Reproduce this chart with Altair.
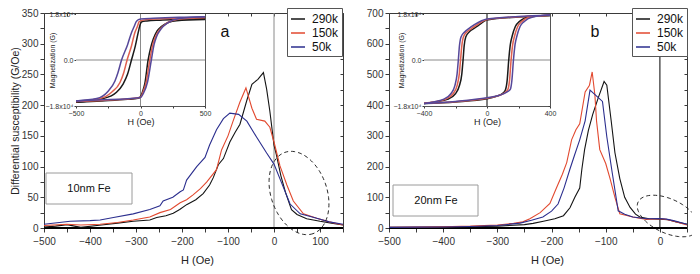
import altair as alt
import numpy as np
import pandas as pd

FONT = "Liberation Sans"
TEMPS = ["290k", "150k", "50k"]
COLORS = ["#141414", "#e2492f", "#2b2e8e"]
INSET_COLORS = ["#1a1a1a", "#e0604f", "#56489a"]

# ---------------- panel a (10nm Fe): differential susceptibility (G/Oe) vs H (Oe)
A290_H = [-500, -475, -450, -420, -380, -340, -306, -270, -255, -235, -219, -205, -190, -170, -154, -140, -132, -121, -110, -96,
          -85, -74, -59, -48, -35, -23, -16, -9, 0, 5, 15, 25, 38, 50, 71, 100, 125, 150]
A290_V = [1.5, 3, 5.5, 1, 4.5, 8, 11, 13, 17, 20, 24, 30, 38, 46, 56, 70, 82, 103, 113, 140,
          155, 169, 208, 234, 242, 253, 226, 190, 135, 120, 85, 58, 30, 22, 15, 11, 8, 5]
A150_H = [-500, -450, -420, -378, -340, -306, -270, -248, -225, -204, -190, -176, -160, -146, -125, -114, -100, -89, -74, -61,
          -48, -38, -20, -9, 0, 13, 28, 42, 64, 93, 120, 150]
A150_V = [4, 6, 5, 6, 9, 13, 18, 25, 30, 41, 46, 54, 64, 75, 95, 127, 150, 174, 205, 228,
          195, 177, 174, 164, 140, 101, 70, 44, 23, 16, 10, 5]
A50_H = [-500, -443, -400, -378, -349, -306, -270, -248, -241, -220, -204, -197, -190, -168, -150, -140, -125, -110, -96, -77,
         -59, -38, -16, 0, 13, 35, 57, 93, 120, 150]
A50_V = [6, 11, 12, 13, 17, 23, 30, 36, 44, 50, 59, 62, 78, 100, 115, 135, 160, 178, 187, 185,
         174, 148, 122, 104, 80, 39, 23, 16, 10, 6]

# ---------------- panel b (20nm Fe)
B290_H = [-500, -450, -400, -350, -300, -250, -234, -215, -194, -178, -166, -157, -148, -144, -139, -132, -124, -114, -103, -98,
          -90, -83, -74, -65, -55, -45, -37, -20, 0, 15, 30, 50]
B290_V = [2, 2, 3, 4, 6, 11, 15, 22, 30, 40, 66, 100, 130, 192, 255, 318, 370, 423, 477, 465,
          350, 245, 161, 100, 67, 45, 36, 30, 29, 27, 20, 12]
B150_H = [-500, -450, -400, -350, -300, -270, -253, -240, -221, -203, -191, -180, -172, -163, -155, -148, -138, -130, -125, -120,
          -117, -111, -100, -92, -83, -74, -50, -25, 0, 12, 24, 50]
B150_V = [2, 3, 4, 6, 10, 15, 20, 30, 50, 80, 130, 175, 213, 287, 320, 339, 443, 465, 508, 433,
          349, 255, 210, 161, 100, 46, 36, 28, 30, 28, 23, 10]
B50_H = [-500, -450, -400, -350, -300, -258, -237, -216, -200, -188, -177, -166, -157, -148, -138, -129, -106, -98, -88, -77,
         -65, -50, -25, 0, 12, 25, 50]
B50_V = [2, 3, 3.5, 5, 8, 16, 25, 36, 55, 78, 130, 192, 240, 287, 349, 449, 412, 297, 180, 56,
         45, 36, 30, 31, 29, 24, 12]

# ---------------- inset a: magnetization (G) vs H (Oe), descending / ascending branches
IA290_DN_H = [500, 300, 150, 50, 10, 0, -18, -40, -70, -100, -135, -186, -290, -500]
IA290_DN_M = [16200, 15900, 15600, 15300, 15000, 14300, 10700, 5500, 0, -5500, -9400, -12600, -15100, -16500]
IA290_UP_H = [-500, -300, -100, -20, 0, 15, 33, 59, 80, 99, 130, 164, 220, 279, 500]
IA290_UP_M = [-16500, -16000, -15400, -15000, -14400, -12500, -9400, 0, 5000, 8200, 11500, 13200, 14800, 15400, 15800]
IA150_DN_H = [500, 300, 100, 20, -10, -25, -44, -70, -104, -130, -159, -224, -316, -500]
IA150_DN_M = [16600, 16400, 16000, 15600, 15000, 13000, 10700, 5500, 0, -5000, -8800, -12600, -15100, -16200]
IA150_UP_H = [-500, -300, -100, 0, 20, 45, 72, 95, 115, 150, 200, 290, 500]
IA150_UP_M = [-16200, -15800, -15300, -14600, -12500, -8500, 0, 6000, 9000, 12000, 14300, 15900, 16600]
IA50_DN_H = [500, 300, 100, 0, -31, -50, -70, -100, -147, -175, -198, -251, -340, -500]
IA50_DN_M = [16900, 16700, 16300, 16000, 15200, 13000, 10700, 6000, 0, -5000, -8200, -12200, -15100, -16000]
IA50_UP_H = [-500, -300, -100, 0, 25, 55, 84, 105, 125, 160, 210, 300, 500]
IA50_UP_M = [-16000, -15600, -15200, -14700, -12800, -8500, 0, 6000, 9200, 12200, 14500, 16200, 16900]

# ---------------- inset b
IB290_DN_H = [400, 200, 0, -60, -92, -113, -135, -145, -152, -160, -175, -199, -252, -320, -400]
IB290_DN_M = [17400, 16800, 15600, 13300, 12000, 11000, 9000, 5500, 0, -5500, -10000, -13100, -15400, -16300, -17000]
IB290_UP_H = [-400, -200, 0, 60, 100, 118, 128, 138, 148, 160, 180, 205, 270, 400]
IB290_UP_M = [-17000, -16400, -15200, -14200, -13000, -11500, -8000, 0, 6000, 9400, 13100, 15000, 16900, 17400]
IB150_DN_H = [400, 200, 0, -70, -105, -128, -150, -160, -168, -176, -190, -214, -265, -330, -400]
IB150_DN_M = [17500, 16900, 15800, 13500, 12000, 11000, 9000, 5500, 0, -5500, -10000, -13100, -15400, -16300, -16900]
IB150_UP_H = [-400, -200, 0, 70, 113, 133, 143, 153, 163, 175, 195, 220, 282, 400]
IB150_UP_M = [-16900, -16300, -15000, -14000, -12800, -11500, -8000, 0, 6000, 9400, 13100, 15000, 16900, 17500]
IB50_DN_H = [400, 200, 0, -80, -118, -142, -165, -175, -182, -190, -204, -228, -278, -340, -400]
IB50_DN_M = [17600, 17000, 16000, 13800, 12200, 11000, 9000, 5500, 0, -5500, -10000, -13100, -15400, -16400, -17000]
IB50_UP_H = [-400, -200, 0, 80, 128, 148, 158, 168, 178, 190, 210, 235, 295, 400]
IB50_UP_M = [-17000, -16200, -14800, -13800, -12500, -11500, -8000, 0, 6000, 9400, 13100, 15000, 16900, 17600]

LABEL_A = "10nm Fe"
LABEL_B = "20nm Fe"

# ================= layout (pixels inside the chart canvas)
W, H = 684, 258
MAIN_TOP = 5
MAIN_BOTTOM = 220


def to_df(items):
    rows = []
    for t, b, xs, ys in items:
        for x, y in zip(xs, ys):
            rows.append({"T": t, "B": b, "H": x, "V": y})
    return pd.DataFrame(rows)


def qscale(dom, rng):
    return alt.Scale(domain=dom, range=rng, nice=False, zero=False)


def axis(**kw):
    base = dict(grid=False, domainColor="#3a3a3a", tickColor="#3a3a3a", labelColor="#333333",
                labelFont=FONT, titleFont=FONT, titleFontWeight="normal", titleColor="#222222",
                labelOverlap=False)
    base.update(kw)
    return alt.Axis(**base)


def main_panel(df, xdom, xr, ydom, yr, ystep, ytitle, xtitle_x, zero_color, legend_x):
    xs = qscale(xdom, xr)
    ys = qscale(ydom, yr)
    xvals = list(range(xdom[0], xdom[1] + 1, 50))
    yvals = list(range(ydom[0], ydom[1] + 1, ystep))
    ylab = ystep * 2
    x_bottom = axis(orient="bottom", offset=yr[0] - H, values=xvals,
                    labelExpr="datum.value % 100 === 0 ? datum.label : ''",
                    tickSize=4, labelPadding=4, labelFontSize=10, labelFlush=False,
                    title="H (Oe)", titleFontSize=11, titleX=xtitle_x, titleY=26,
                    domainColor="#000000", domainWidth=1.2)
    x_top = axis(orient="bottom", offset=yr[1] - H, values=xvals, labels=False,
                 tickSize=3, title=None)
    y_kw = dict(orient="left", offset=-xr[0], values=yvals,
                labelExpr=f"datum.value % {ylab} === 0 ? datum.label : ''",
                tickSize=4, labelPadding=2, labelFontSize=10)
    if ytitle:
        y_kw.update(title=ytitle, titleFontSize=10.5, titleX=-24, titleY=(yr[0] + yr[1]) / 2)
    else:
        y_kw.update(title=None)
    y_left = axis(**y_kw)
    y_right = axis(orient="left", offset=-xr[1], values=yvals, labels=False, tickSize=3, title=None)

    legend = alt.Legend(orient="none", legendX=legend_x, legendY=0, title=None,
                        symbolType="stroke", symbolSize=196, symbolStrokeWidth=1.5,
                        labelFont=FONT, labelFontSize=12, labelColor="#111111", labelOffset=6,
                        rowPadding=0, padding=3, strokeColor="#555555", fillColor="white")

    lines = alt.Chart(df).mark_line(strokeWidth=1.1).encode(
        x=alt.X("H:Q", scale=xs, axis=x_bottom),
        y=alt.Y("V:Q", scale=ys, axis=y_left),
        color=alt.Color("T:N", scale=alt.Scale(domain=TEMPS, range=COLORS), legend=legend),
    )
    vrule = alt.Chart(pd.DataFrame({"H": [0], "lo": [ydom[0]], "hi": [ydom[1]]})).mark_rule(
        color=zero_color, strokeWidth=1).encode(
        x=alt.X("H:Q", scale=xs, axis=x_top),
        y=alt.Y("lo:Q", scale=ys, axis=None), y2="hi:Q")
    hrule = alt.Chart(pd.DataFrame({"V": [0], "a": [xdom[0]], "b": [xdom[1]]})).mark_rule(
        color="#000000", strokeWidth=1.8).encode(
        y=alt.Y("V:Q", scale=ys, axis=y_right),
        x=alt.X("a:Q", scale=xs, axis=None), x2="b:Q")
    return alt.layer(vrule, hrule, lines).resolve_axis(x="independent", y="independent")


def inset_panel(df, xdom, xr, yr, xstep, xlabs, zero_color, ytitle_x):
    xs = qscale(xdom, xr)
    ys = qscale([-18000, 18000], yr)
    xvals = list(range(xdom[0], xdom[1] + 1, xstep))
    yvals = [-18000, 0, 18000]
    cond = " || ".join(f"datum.value === {v}" for v in xlabs)
    x_bottom = axis(orient="bottom", offset=yr[0] - H, values=xvals,
                    labelExpr=f"({cond}) ? datum.label : ''", tickSize=2, labelPadding=1,
                    labelFontSize=7, labelFlush=False, title="H (Oe)", titleFontSize=9,
                    titlePadding=1, domainColor="#555555")
    x_top = axis(orient="bottom", offset=yr[1] - H, values=xvals, labels=False, tickSize=2,
                 title=None, domainColor="#555555")
    y_left = axis(orient="left", offset=-xr[0], values=yvals,
                  labelExpr="datum.value > 0 ? '1.8x10⁴' : (datum.value < 0 ? '−1.8x10⁴' : '0.0')",
                  tickSize=2, labelPadding=1, labelFontSize=7, labelFlush=False,
                  title="Magnetization (G)", titleFontSize=7, titleX=ytitle_x,
                  titleY=(yr[0] + yr[1]) / 2, domainColor="#555555")
    y_right = axis(orient="left", offset=-xr[1], values=yvals, labels=False, tickSize=2,
                   title=None, domainColor="#555555")

    bg = alt.Chart(pd.DataFrame({"a": [xdom[0]], "b": [xdom[1]], "c": [-18000], "d": [18000]})).mark_rect(
        fill="white").encode(
        x=alt.X("a:Q", scale=xs, axis=None), x2="b:Q",
        y=alt.Y("c:Q", scale=ys, axis=None), y2="d:Q")
    vrule = alt.Chart(pd.DataFrame({"H": [0], "lo": [-18000], "hi": [18000]})).mark_rule(
        color=zero_color, strokeWidth=1).encode(
        x=alt.X("H:Q", scale=xs, axis=x_top),
        y=alt.Y("lo:Q", scale=ys, axis=None), y2="hi:Q")
    hrule = alt.Chart(pd.DataFrame({"M": [0], "a": [xdom[0]], "b": [xdom[1]]})).mark_rule(
        color="#8a8a8a", strokeWidth=1).encode(
        y=alt.Y("M:Q", scale=ys, axis=y_right),
        x=alt.X("a:Q", scale=xs, axis=None), x2="b:Q")
    loops = alt.Chart(df).mark_line(strokeWidth=1.5, interpolate="monotone").encode(
        x=alt.X("H:Q", scale=xs, axis=x_bottom),
        y=alt.Y("V:Q", scale=ys, axis=y_left),
        color=alt.Color("T:N", scale=alt.Scale(domain=TEMPS, range=INSET_COLORS), legend=None),
        detail="B:N",
    )
    return alt.layer(bg, vrule, hrule, loops).resolve_axis(x="independent", y="independent")


dfA = to_df([("290k", "m", A290_H, A290_V), ("150k", "m", A150_H, A150_V), ("50k", "m", A50_H, A50_V)])
dfB = to_df([("290k", "m", B290_H, B290_V), ("150k", "m", B150_H, B150_V), ("50k", "m", B50_H, B50_V)])
dfIA = to_df([
    ("290k", "290dn", IA290_DN_H, IA290_DN_M), ("290k", "290up", IA290_UP_H, IA290_UP_M),
    ("150k", "150dn", IA150_DN_H, IA150_DN_M), ("150k", "150up", IA150_UP_H, IA150_UP_M),
    ("50k", "50dn", IA50_DN_H, IA50_DN_M), ("50k", "50up", IA50_UP_H, IA50_UP_M)])
dfIB = to_df([
    ("290k", "290dn", IB290_DN_H, IB290_DN_M), ("290k", "290up", IB290_UP_H, IB290_UP_M),
    ("150k", "150dn", IB150_DN_H, IB150_DN_M), ("150k", "150up", IB150_UP_H, IB150_UP_M),
    ("50k", "50dn", IB50_DN_H, IB50_DN_M), ("50k", "50up", IB50_UP_H, IB50_UP_M)])

mainA = main_panel(dfA, [-500, 150], [36, 335], [0, 350], [MAIN_BOTTOM, MAIN_TOP], 25,
                   "Differential susceptibility (G/Oe)", 189, "#8a8a8a", 279)
mainB = main_panel(dfB, [-500, 50], [381, 679], [0, 700], [MAIN_BOTTOM, MAIN_TOP], 50,
                   None, 539, "#000000", 624)
insetA = inset_panel(dfIA, [-500, 500], [68, 197], [98, 6], 250, [-500, 0, 500], "#8a8a8a", -21)
insetB = inset_panel(dfIB, [-400, 400], [416, 542], [98, 6], 200, [-400, 0, 400], "#000000", -20)

# ---------------- annotations: dashed ellipses (pixel space), label boxes, panel letters
ELLIPSES = [("a", 291, 185, 43, 28, 71), ("b", 660, 208, 33, 17, 25)]
erows = []
for name, cx, cy, ra, rb, ang in ELLIPSES:
    t = np.linspace(0, 2 * np.pi, 97)
    th = np.deg2rad(ang)
    ex = cx + ra * np.cos(t) * np.cos(th) - rb * np.sin(t) * np.sin(th)
    ey = cy + ra * np.cos(t) * np.sin(th) + rb * np.sin(t) * np.cos(th)
    for i, (px, py) in enumerate(zip(ex, ey)):
        erows.append({"e": name, "i": i, "px": px, "py": py})
ell = alt.Chart(pd.DataFrame(erows)).mark_line(
    color="#111111", strokeWidth=0.9, strokeDash=[4, 3]).encode(
    x=alt.X("px:Q", scale=alt.Scale(domain=[0, W], range=[0, W], nice=False, zero=False), axis=None),
    y=alt.Y("py:Q", scale=alt.Scale(domain=[0, H], range=[0, H], nice=False, zero=False), axis=None),
    detail="e:N", order="i:Q")

one = pd.DataFrame({"k": [0]})
boxA = alt.Chart(one).mark_rect(fill="white", stroke="#9a9a9a", strokeWidth=1).encode(
    x=alt.value(38), x2=alt.value(124), y=alt.value(165), y2=alt.value(196))
boxB = alt.Chart(one).mark_rect(fill="white", stroke="#9a9a9a", strokeWidth=1).encode(
    x=alt.value(385), x2=alt.value(470), y=alt.value(177), y2=alt.value(208))
txtA = alt.Chart(one).mark_text(text=LABEL_A, font=FONT, fontSize=11, color="#111111").encode(
    x=alt.value(81), y=alt.value(181))
txtB = alt.Chart(one).mark_text(text=LABEL_B, font=FONT, fontSize=11, color="#111111").encode(
    x=alt.value(428), y=alt.value(193))
letA = alt.Chart(one).mark_text(text="a", font=FONT, fontSize=16, color="#111111").encode(
    x=alt.value(217), y=alt.value(24))
letB = alt.Chart(one).mark_text(text="b", font=FONT, fontSize=16, color="#111111").encode(
    x=alt.value(587), y=alt.value(24))

chart = alt.layer(
    mainA, mainB, insetA, insetB, ell, boxA, boxB, txtA, txtB, letA, letB
).resolve_scale(
    x="independent", y="independent", color="independent"
).resolve_axis(
    x="independent", y="independent"
).resolve_legend(
    color="independent"
).properties(
    width=W, height=H, autosize=alt.AutoSizeParams(type="none"), padding=0
).configure_view(stroke=None)

chart.save("out.html", embed_options={"renderer": "svg", "actions": False})
